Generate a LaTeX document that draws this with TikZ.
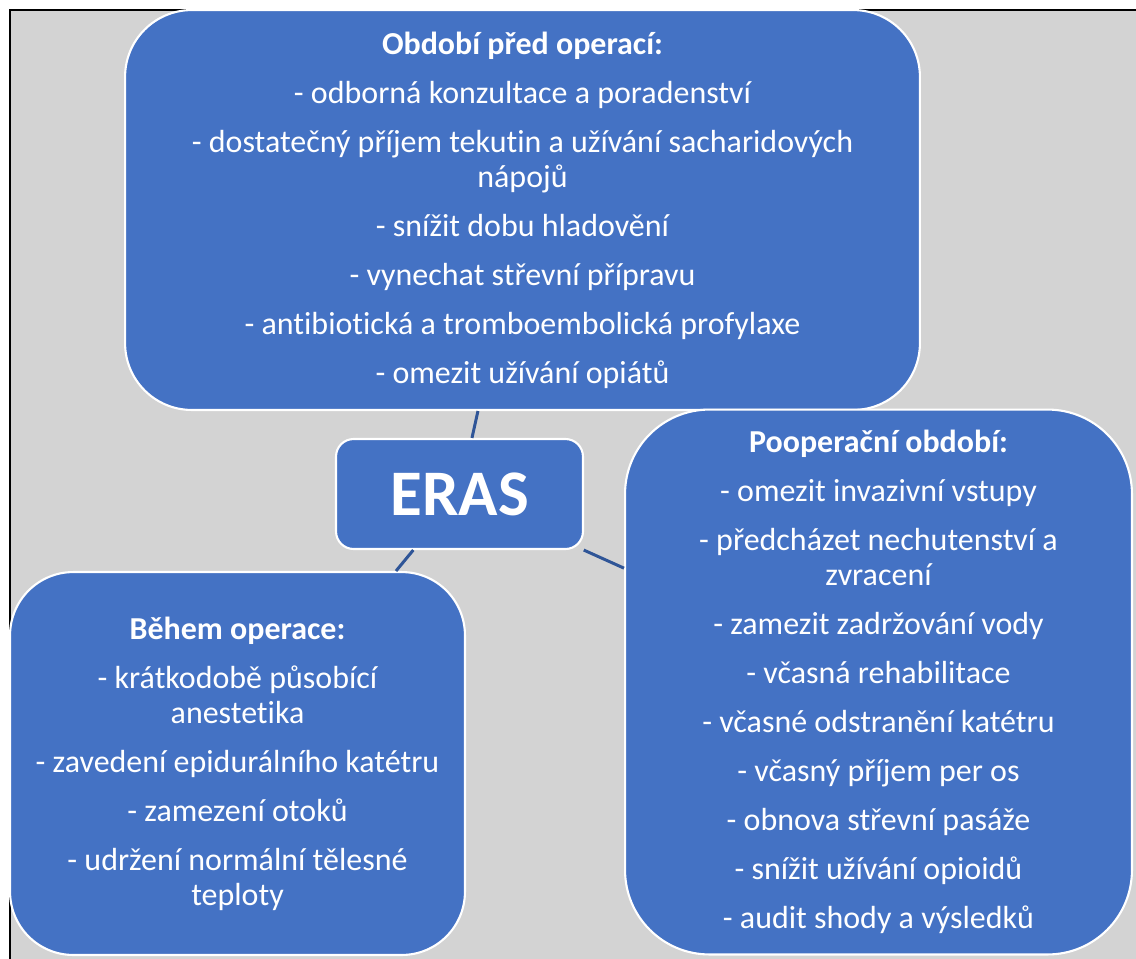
\documentclass[tikz,border=0pt]{standalone}
\usepackage{fontspec}
\setmainfont{Carlito}[Ligatures=NoCommon]
\usepackage{tikz}
\usetikzlibrary{backgrounds,calc}
\definecolor{erasblue}{HTML}{4472C4}
\definecolor{linkblue}{HTML}{2F5597}
\definecolor{bggray}{HTML}{D3D3D3}
\tikzset{
  phasebox/.style={draw=white, line width=1.2pt, fill=erasblue, text=white,
    align=center, inner sep=0pt, font=\fontsize{18.2}{19.9}\selectfont},
  link/.style={draw=linkblue, line width=1.7pt}
}

\begin{document}
\begin{tikzpicture}[x=0.02cm,y=-0.02cm]
\useasboundingbox (0,0) rectangle (1136,958);
\fill[bggray] (10,10) rectangle (1140,962);
\draw[black, line width=1.4pt] (10,962) -- (10,10) -- (1140,10);

\node[phasebox, minimum width=15.9cm, minimum height=8cm, rounded corners=38pt] (pre) at (522.5,210) {%
\textbf{Období před operací:}\\[8pt]
- odborná konzultace a poradenství\\[8pt]
- dostatečný příjem tekutin a užívání sacharidových\\
nápojů\\[8pt]
- snížit dobu hladovění\\[8pt]
- vynechat střevní přípravu\\[8pt]
- antibiotická a tromboembolická profylaxe\\[8pt]
- omezit užívání opiátů};

\node[phasebox, minimum width=4.94cm, minimum height=2.2cm, rounded corners=10pt,
  font=\fontsize{37}{40}\selectfont\bfseries] (eras) at (459.5,494) {ERAS};

\node[phasebox, minimum width=9.1cm, minimum height=7.66cm, rounded corners=36pt] (intra) at (237.5,763.5) {%
\textbf{Během operace:}\\[8pt]
- krátkodobě působící\\
anestetika\\[8pt]
- zavedení epidurálního katétru\\[8pt]
- zamezení otoků\\[8pt]
- udržení normální tělesné\\
teploty};

\node[phasebox, minimum width=10.14cm, minimum height=10.9cm, rounded corners=48pt] (post) at (878.5,682) {%
\textbf{Pooperační období:}\\[8pt]
- omezit invazivní vstupy\\[8pt]
- předcházet nechutenství a\\
zvracení\\[8pt]
- zamezit zadržování vody\\[8pt]
- včasná rehabilitace\\[8pt]
- včasné odstranění katétru\\[8pt]
- včasný příjem per os\\[8pt]
- obnova střevní pasáže\\[8pt]
- snížit užívání opioidů\\[8pt]
- audit shody a výsledků};

\draw[link] (eras) -- (pre);
\draw[link] (eras) -- (intra);
\draw[link] (eras) -- (post);
\end{tikzpicture}
\end{document}
